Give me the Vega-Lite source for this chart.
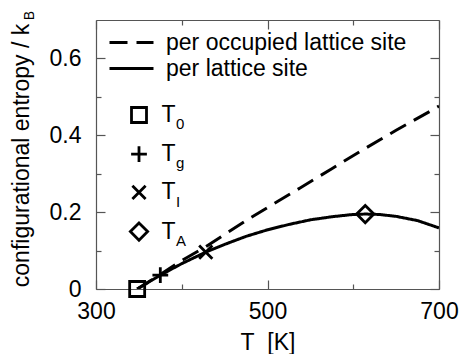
{
  "$schema": "https://vega.github.io/schema/vega-lite/v6.json",
  "width": 343,
  "height": 269,
  "autosize": {"type": "none"},
  "padding": {"left": 96, "top": 20, "right": 22, "bottom": 65},
  "background": "white",
  "config": {
    "view": {"stroke": null},
    "font": "Liberation Sans",
    "axis": {
      "domainColor": "#555555",
      "tickColor": "#555555",
      "domainWidth": 1.2,
      "tickWidth": 1.2,
      "labelColor": "black",
      "titleColor": "black",
      "labelFont": "Liberation Sans",
      "titleFont": "Liberation Sans",
      "labelFontSize": 23,
      "titleFontSize": 23,
      "titleFontWeight": "normal",
      "grid": false
    },
    "legend": {
      "labelFont": "Liberation Sans",
      "labelColor": "black",
      "padding": 0,
      "orient": "none",
      "labelLimit": 400
    }
  },
  "datasets": {
    "curves": [
      {"series": "per occupied lattice site", "T": 348, "S": 0},
      {"series": "per occupied lattice site", "T": 375, "S": 0.038},
      {"series": "per occupied lattice site", "T": 400, "S": 0.074},
      {"series": "per occupied lattice site", "T": 428, "S": 0.11},
      {"series": "per occupied lattice site", "T": 450, "S": 0.142},
      {"series": "per occupied lattice site", "T": 480, "S": 0.185},
      {"series": "per occupied lattice site", "T": 500, "S": 0.212},
      {"series": "per occupied lattice site", "T": 538, "S": 0.263},
      {"series": "per occupied lattice site", "T": 575, "S": 0.313},
      {"series": "per occupied lattice site", "T": 608, "S": 0.358},
      {"series": "per occupied lattice site", "T": 650, "S": 0.413},
      {"series": "per occupied lattice site", "T": 690, "S": 0.463},
      {"series": "per occupied lattice site", "T": 700, "S": 0.476},
      {"series": "per lattice site", "T": 348, "S": 0},
      {"series": "per lattice site", "T": 360, "S": 0.016},
      {"series": "per lattice site", "T": 375, "S": 0.036},
      {"series": "per lattice site", "T": 400, "S": 0.066},
      {"series": "per lattice site", "T": 428, "S": 0.096},
      {"series": "per lattice site", "T": 450, "S": 0.116},
      {"series": "per lattice site", "T": 475, "S": 0.137},
      {"series": "per lattice site", "T": 500, "S": 0.154},
      {"series": "per lattice site", "T": 525, "S": 0.168},
      {"series": "per lattice site", "T": 550, "S": 0.18},
      {"series": "per lattice site", "T": 575, "S": 0.188},
      {"series": "per lattice site", "T": 600, "S": 0.194},
      {"series": "per lattice site", "T": 614, "S": 0.195},
      {"series": "per lattice site", "T": 630, "S": 0.194},
      {"series": "per lattice site", "T": 650, "S": 0.189},
      {"series": "per lattice site", "T": 675, "S": 0.178},
      {"series": "per lattice site", "T": 700, "S": 0.159}
    ],
    "points": [
      {"name": "T0", "sub": "0", "T": 348, "S": 0},
      {"name": "Tg", "sub": "g", "T": 375, "S": 0.036},
      {"name": "TI", "sub": "I", "T": 428, "S": 0.096},
      {"name": "TA", "sub": "A", "T": 614, "S": 0.195}
    ]
  },
  "layer": [
    {
      "data": {"name": "curves"},
      "mark": {"type": "line", "strokeWidth": 3, "color": "black", "clip": true},
      "encoding": {
        "x": {
          "field": "T", "type": "quantitative",
          "scale": {"domain": [300, 700], "nice": false, "zero": false},
          "axis": {
            "orient": "bottom",
            "values": [300, 400, 500, 600, 700],
            "labelExpr": "datum.value % 200 == 100 ? datum.label : ''",
            "tickSize": {"condition": {"test": "datum.value % 200 == 100", "value": -9}, "value": -5},
            "labelPadding": 20,
            "labelFlush": false,
            "title": "T\u00a0\u00a0[K]",
            "titleBaseline": "alphabetic",
            "titleY": 60
          }
        },
        "y": {
          "field": "S", "type": "quantitative",
          "scale": {"domain": [0, 0.7], "nice": false},
          "axis": {
            "orient": "left",
            "values": [0, 0.1, 0.2, 0.3, 0.4, 0.5, 0.6],
            "labelExpr": "round(datum.value * 10) % 2 == 0 ? (datum.value == 0 ? '0' : format(datum.value, '.1f')) : ''",
            "tickSize": {"condition": {"test": "round(datum.value * 10) % 2 == 0", "value": -9}, "value": -5},
            "labelPadding": 24,
            "labelFlush": false,
            "title": "configurational entropy / k",
            "titleAngle": -90,
            "titleBaseline": "alphabetic",
            "titleAlign": "center",
            "titleX": -68,
            "titleY": 135
          }
        },
        "strokeDash": {
          "field": "series", "type": "nominal",
          "scale": {"domain": ["per occupied lattice site", "per lattice site"], "range": [[18, 9], [1, 0]]},
          "legend": {
            "title": null,
            "legendX": 12,
            "legendY": 11,
            "symbolType": "stroke",
            "symbolSize": 1936,
            "symbolStrokeWidth": 3,
            "symbolStrokeColor": "black",
            "labelFontSize": 23,
            "labelOffset": 11,
            "clipHeight": 23,
            "rowPadding": 2
          }
        }
      }
    },
    {
      "data": {"name": "points"},
      "mark": {"type": "point", "filled": false, "strokeWidth": 2.8, "color": "black", "size": 225, "opacity": 1},
      "encoding": {
        "x": {
          "field": "T", "type": "quantitative",
          "scale": {"domain": [300, 700], "nice": false, "zero": false},
          "axis": {
            "orient": "top",
            "values": [300, 400, 500, 600, 700],
            "labels": false,
            "tickSize": {"condition": {"test": "datum.value % 200 == 100", "value": -9}, "value": -5},
            "title": null
          }
        },
        "y": {
          "field": "S", "type": "quantitative",
          "scale": {"domain": [0, 0.7], "nice": false},
          "axis": {
            "orient": "right",
            "values": [0, 0.1, 0.2, 0.3, 0.4, 0.5, 0.6],
            "labels": false,
            "tickSize": {"condition": {"test": "round(datum.value * 10) % 2 == 0", "value": -9}, "value": -5},
            "title": null
          }
        },
        "shape": {
          "field": "name", "type": "nominal",
          "scale": {
            "domain": ["T0", "Tg", "TI", "TA"],
            "range": [
              "M-1,-1L1,-1L1,1L-1,1Z",
              "M-1.05,0L1.05,0M0,-1.05L0,1.05",
              "M-0.88,-0.88L0.88,0.88M-0.88,0.88L0.88,-0.88",
              "M0,-1.15L1.15,0L0,1.15L-1.15,0Z"
            ]
          },
          "legend": {
            "title": null,
            "legendX": 31.5,
            "legendY": 83.5,
            "labelExpr": "'T'",
            "labelFontSize": 23,
            "labelOffset": 11,
            "symbolSize": 225,
            "symbolStrokeWidth": 2.8,
            "symbolStrokeColor": "black",
            "symbolFillColor": "transparent",
            "rowPadding": 12.2
          }
        },
        "opacity": {
          "field": "sub", "type": "ordinal",
          "scale": {"domain": ["0", "g", "I", "A"], "range": [1, 1, 1, 1]},
          "legend": {
            "title": null,
            "legendX": 55,
            "legendY": 96.5,
            "labelFontSize": 15,
            "labelOffset": 0,
            "labelBaseline": "alphabetic",
            "symbolSize": 529,
            "symbolOpacity": 0,
            "symbolStrokeColor": "transparent",
            "symbolFillColor": "transparent",
            "rowPadding": 10
          }
        }
      }
    },
    {
      "data": {"name": "points"},
      "mark": {"type": "point", "opacity": 0},
      "encoding": {
        "x": {"field": "T", "type": "quantitative", "scale": {"domain": [300, 700], "nice": false, "zero": false}, "axis": null},
        "y": {
          "field": "S", "type": "quantitative",
          "scale": {"domain": [0, 0.7], "nice": false},
          "axis": {
            "orient": "left",
            "labels": false,
            "ticks": false,
            "domain": false,
            "title": "B",
            "titleFontSize": 14,
            "titleAngle": -90,
            "titleBaseline": "alphabetic",
            "titleAlign": "center",
            "titleX": -63,
            "titleY": -5
          }
        }
      }
    }
  ],
  "resolve": {"axis": {"x": "independent", "y": "independent"}}
}
